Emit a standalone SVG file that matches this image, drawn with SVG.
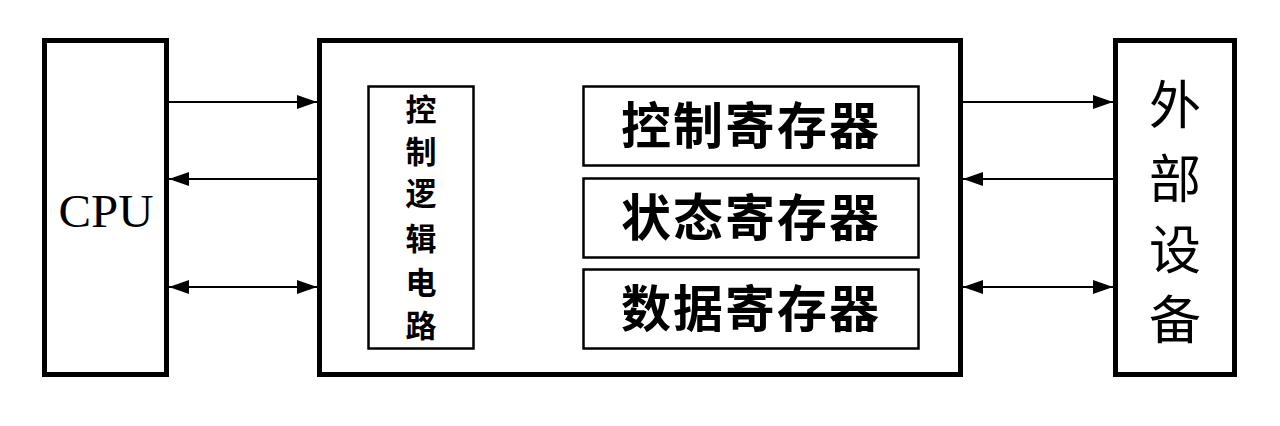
<svg xmlns="http://www.w3.org/2000/svg" width="1280" height="426" viewBox="0 0 1280 426">
<style>
.thick{fill:#fff;stroke:#000;stroke-width:5}
.thin{fill:#fff;stroke:#000;stroke-width:2.5}
.conn{stroke:#000;stroke-width:2;fill:none}
.reg{font-family:"Noto Sans CJK SC","Noto Sans CJK JP",sans-serif;font-weight:700;font-size:50px;fill:#000;text-anchor:middle}
.ctl{font-family:"Noto Sans CJK SC","Noto Sans CJK JP",sans-serif;font-weight:700;font-size:31px;fill:#000;text-anchor:middle}
.ext{font-family:"Noto Sans CJK SC","Noto Sans CJK JP",sans-serif;font-weight:400;font-size:52px;fill:#000;text-anchor:middle}
.cpu{font-family:"Liberation Serif",serif;font-size:46px;fill:#000;text-anchor:middle}
</style>
<defs>
<marker id="ah" viewBox="0 0 20 16" refX="20" refY="8" markerWidth="20" markerHeight="16" markerUnits="userSpaceOnUse" orient="auto-start-reverse">
<path d="M0,1 L20,8 L0,15 z" fill="#000"/>
</marker>
</defs>
<rect width="1280" height="426" fill="#fff"/>
<g id="cpu">
<rect class="thick" x="44.5" y="40.5" width="122" height="334"/>
<text class="cpu" x="106" y="227" textLength="95" lengthAdjust="spacingAndGlyphs">CPU</text>
</g>
<g id="interface">
<rect class="thick" x="319.5" y="40.5" width="641" height="334"/>
</g>
<g id="control-logic">
<rect class="thin" x="368.5" y="86.5" width="105" height="262"/>
<text class="ctl" x="421" y="121">控</text>
<text class="ctl" x="421" y="163">制</text>
<text class="ctl" x="421" y="205">逻</text>
<text class="ctl" x="421" y="250">辑</text>
<text class="ctl" x="421" y="294">电</text>
<text class="ctl" x="421" y="337">路</text>
</g>
<g id="control-register">
<rect class="thin" x="583.5" y="86.5" width="335" height="79"/>
<text class="reg" x="750" y="144" textLength="258" lengthAdjust="spacing">控制寄存器</text>
</g>
<g id="status-register">
<rect class="thin" x="583.5" y="178.5" width="335" height="79"/>
<text class="reg" x="750" y="236" textLength="258" lengthAdjust="spacing">状态寄存器</text>
</g>
<g id="data-register">
<rect class="thin" x="583.5" y="269.5" width="335" height="79"/>
<text class="reg" x="750" y="327" textLength="258" lengthAdjust="spacing">数据寄存器</text>
</g>
<g id="external-device">
<rect class="thick" x="1115.5" y="40.5" width="119" height="334"/>
<text class="ext" x="1175" y="124">外</text>
<text class="ext" x="1175" y="198">部</text>
<text class="ext" x="1175" y="269">设</text>
<text class="ext" x="1175" y="339">备</text>
</g>
<g id="connectors">
<line class="conn" x1="169" y1="102" x2="317" y2="102" marker-end="url(#ah)"/>
<line class="conn" x1="317" y1="179" x2="169" y2="179" marker-end="url(#ah)"/>
<line class="conn" x1="169" y1="287" x2="317" y2="287" marker-start="url(#ah)" marker-end="url(#ah)"/>
<line class="conn" x1="963" y1="102" x2="1113" y2="102" marker-end="url(#ah)"/>
<line class="conn" x1="1113" y1="179" x2="963" y2="179" marker-end="url(#ah)"/>
<line class="conn" x1="963" y1="287" x2="1113" y2="287" marker-start="url(#ah)" marker-end="url(#ah)"/>
</g>
</svg>
